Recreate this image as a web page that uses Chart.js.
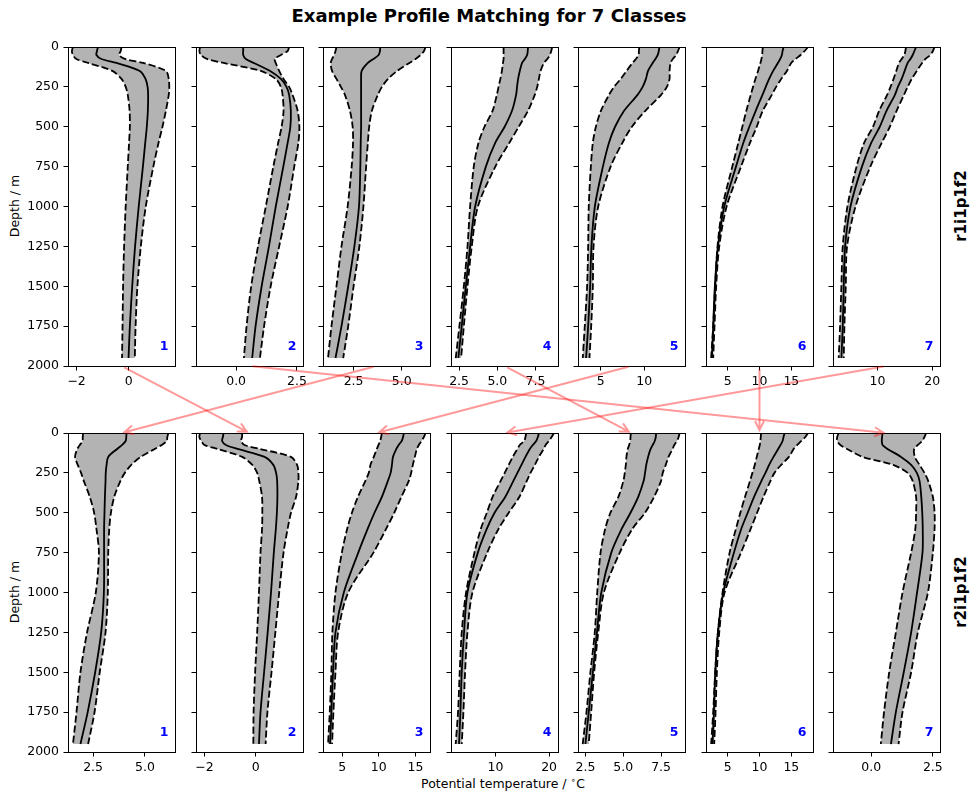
<!DOCTYPE html>
<html>
<head>
<meta charset="utf-8">
<script src="https://cdn.jsdelivr.net/npm/chart.js@4.4.1/dist/chart.umd.min.js"></script>
<style>
html,body{margin:0;padding:0;background:#fff;}
#fig{position:relative;width:971px;height:793px;overflow:hidden;background:#fff;font-family:'DejaVu Sans',sans-serif;color:#000;}
.lbl{position:absolute;white-space:nowrap;line-height:1;transform:translate(-50%,-50%);}
.rot{transform:translate(-50%,-50%) rotate(-90deg);}
</style>
</head>
<body>
<div id="fig">
  <div class="lbl" style="left:489px;top:16px;font-size:18px;font-weight:bold;">Example Profile Matching for 7 Classes</div>
  <div class="lbl" style="left:503px;top:783.5px;font-size:12.5px;">Potential temperature / <span style="position:relative;top:-0.45em;font-size:0.72em;">∘</span>C</div>
  <div class="lbl rot" style="left:14.5px;top:205.5px;font-size:12.5px;">Depth / m</div>
  <div class="lbl rot" style="left:14.5px;top:591.5px;font-size:12.5px;">Depth / m</div>
  <div class="lbl rot" style="left:961px;top:205.5px;font-size:15px;font-weight:bold;">r1i1p1f2</div>
  <div class="lbl rot" style="left:961px;top:591.5px;font-size:15px;font-weight:bold;">r2i1p1f2</div>
</div>
<script>
// ---------------- data ----------------
const depths = [0, 25, 50, 75, 100, 150, 200, 250, 300, 400, 500, 600, 750, 1000, 1250, 1500, 1750, 1950];
const depthTicks = [0, 250, 500, 750, 1000, 1250, 1500, 1750, 2000];
const classLabels = ['1', '2', '3', '4', '5', '6', '7'];
const rowNames = ['r1i1p1f2', 'r2i1p1f2'];

// r1i1p1f2 (top row)
const top1Mean  = [-1.18, -1.22, -1.24, -1.05, -0.47, 0.42, 0.64, 0.72, 0.74, 0.73, 0.69, 0.63, 0.54, 0.38, 0.24, 0.13, 0.04, -0.01];
const top1Lower = [-2.14, -2.18, -2.14, -2.01, -1.56, -0.63, -0.28, -0.12, -0.04, 0.03, 0.04, 0.01, -0.04, -0.12, -0.18, -0.22, -0.24, -0.26];
const top1Upper = [-0.28, -0.31, -0.37, -0.15, 0.55, 1.42, 1.53, 1.55, 1.53, 1.42, 1.29, 1.14, 0.94, 0.65, 0.46, 0.33, 0.26, 0.23];

const top2Mean  = [0.29, 0.29, 0.29, 0.40, 0.73, 1.40, 1.84, 2.07, 2.18, 2.25, 2.23, 2.12, 1.94, 1.63, 1.35, 1.05, 0.80, 0.66];
const top2Lower = [-1.48, -1.51, -1.45, -1.20, -0.51, 1.01, 1.63, 1.84, 1.91, 1.95, 1.87, 1.73, 1.53, 1.22, 0.90, 0.62, 0.43, 0.32];
const top2Upper = [2.18, 2.12, 1.84, 1.59, 1.63, 1.77, 1.95, 2.18, 2.32, 2.53, 2.60, 2.56, 2.39, 2.12, 1.77, 1.42, 1.15, 0.98];

const top3Mean  = [3.88, 3.87, 3.80, 3.53, 3.24, 2.92, 2.89, 2.89, 2.89, 2.89, 2.89, 2.87, 2.85, 2.78, 2.54, 2.22, 1.87, 1.56];
const top3Lower = [1.61, 1.56, 1.49, 1.38, 1.31, 1.38, 1.61, 1.84, 2.05, 2.31, 2.45, 2.47, 2.40, 2.19, 1.87, 1.61, 1.35, 1.17];
const top3Upper = [6.24, 6.16, 5.98, 5.72, 5.40, 4.76, 4.29, 3.97, 3.76, 3.45, 3.31, 3.24, 3.15, 3.01, 2.80, 2.50, 2.22, 1.96];

const top4Mean  = [7.01, 6.99, 6.95, 6.80, 6.62, 6.47, 6.36, 6.29, 6.23, 5.96, 5.48, 4.87, 4.25, 3.55, 3.22, 2.94, 2.67, 2.45];
const top4Lower = [5.41, 5.41, 5.41, 5.41, 5.37, 5.30, 5.20, 5.08, 4.97, 4.69, 4.16, 3.77, 3.46, 3.22, 3.05, 2.81, 2.52, 2.28];
const top4Upper = [8.59, 8.53, 8.44, 8.27, 8.05, 7.83, 7.72, 7.61, 7.45, 7.01, 6.40, 5.79, 4.87, 3.73, 3.33, 3.05, 2.81, 2.63];

const top5Mean  = [11.76, 11.69, 11.57, 11.30, 10.99, 10.45, 10.21, 9.83, 9.24, 7.69, 6.65, 5.95, 5.25, 4.32, 3.93, 3.78, 3.55, 3.31];
const top5Lower = [9.44, 9.40, 9.36, 9.05, 8.66, 7.97, 7.31, 6.53, 5.95, 5.02, 4.44, 4.09, 3.86, 3.62, 3.55, 3.43, 3.16, 2.93];
const top5Upper = [14.09, 13.90, 13.70, 13.31, 13.04, 12.93, 12.93, 12.62, 11.96, 10.14, 8.59, 7.50, 6.14, 4.71, 4.17, 4.09, 3.90, 3.70];

const top6Mean  = [13.77, 13.62, 13.51, 13.25, 12.88, 12.14, 11.51, 10.98, 10.46, 9.40, 8.40, 7.46, 6.30, 4.46, 3.46, 2.98, 2.72, 2.51];
const top6Lower = [10.51, 10.46, 10.41, 10.30, 10.14, 9.77, 9.35, 8.98, 8.62, 7.93, 7.30, 6.67, 5.72, 4.19, 3.40, 3.04, 2.72, 2.40];
const top6Upper = [17.62, 17.09, 16.46, 15.67, 14.98, 14.30, 13.40, 12.61, 11.93, 10.51, 9.56, 8.51, 7.09, 4.83, 3.67, 3.19, 2.93, 2.72];

const top7Mean  = [17.06, 16.75, 16.44, 16.02, 15.52, 14.97, 14.42, 13.74, 13.19, 11.66, 10.43, 8.89, 7.18, 5.09, 4.11, 3.86, 3.68, 3.43];
const top7Lower = [15.22, 15.10, 14.91, 14.42, 13.93, 13.44, 12.95, 12.39, 11.78, 10.31, 9.20, 7.60, 6.19, 4.53, 3.68, 3.43, 3.19, 2.94];
const top7Upper = [20.43, 20.13, 19.64, 18.78, 18.16, 17.18, 16.26, 15.52, 14.85, 13.50, 12.27, 10.80, 8.71, 6.01, 4.47, 4.23, 3.98, 3.86];

// r2i1p1f2 (bottom row)
const bot1Mean  = [4.11, 4.10, 4.07, 3.90, 3.66, 3.23, 3.15, 3.11, 3.10, 3.07, 3.05, 3.03, 3.03, 3.02, 2.89, 2.60, 2.24, 1.89];
const bot1Lower = [2.02, 2.00, 1.99, 1.86, 1.74, 1.63, 1.76, 1.92, 2.05, 2.34, 2.55, 2.66, 2.78, 2.63, 2.21, 1.89, 1.70, 1.53];
const bot1Upper = [6.13, 6.08, 6.05, 5.81, 5.47, 4.79, 4.34, 4.03, 3.82, 3.52, 3.36, 3.28, 3.23, 3.21, 3.10, 2.82, 2.57, 2.26];

const bot2Mean  = [-1.25, -1.28, -1.31, -1.16, -0.70, 0.35, 0.69, 0.80, 0.84, 0.85, 0.83, 0.79, 0.71, 0.60, 0.47, 0.33, 0.19, 0.13];
const bot2Lower = [-2.17, -2.20, -2.12, -2.00, -1.49, -0.53, -0.13, 0.06, 0.14, 0.25, 0.26, 0.25, 0.19, 0.13, 0.06, -0.02, -0.08, -0.09];
const bot2Upper = [-0.53, -0.53, -0.57, -0.44, 0.17, 1.38, 1.62, 1.67, 1.67, 1.58, 1.38, 1.25, 1.09, 0.92, 0.77, 0.62, 0.46, 0.39];

const bot3Mean  = [13.40, 13.31, 13.12, 12.71, 12.39, 11.93, 11.79, 11.61, 11.24, 10.42, 9.41, 8.49, 7.20, 5.23, 4.09, 3.76, 3.53, 3.35];
const bot3Lower = [10.42, 10.32, 10.19, 9.96, 9.73, 9.31, 8.86, 8.63, 8.17, 7.16, 6.33, 5.69, 4.96, 4.09, 3.67, 3.53, 3.31, 3.08];
const bot3Upper = [16.38, 16.15, 15.83, 15.46, 15.19, 14.91, 14.64, 14.41, 14.09, 13.08, 12.11, 11.01, 9.27, 5.83, 4.45, 4.09, 3.81, 3.63];

const bot4Mean  = [18.10, 17.91, 17.60, 16.98, 16.41, 15.60, 14.85, 14.10, 13.35, 11.85, 9.85, 8.41, 6.73, 4.79, 4.16, 3.73, 3.48, 3.23];
const bot4Lower = [15.73, 15.60, 15.35, 14.54, 14.10, 13.23, 12.48, 11.73, 10.98, 9.48, 8.41, 7.29, 6.10, 4.54, 3.73, 3.35, 3.04, 2.60];
const bot4Upper = [20.91, 20.48, 19.98, 19.35, 18.98, 18.10, 17.35, 16.54, 15.85, 14.48, 12.48, 10.60, 8.48, 5.73, 4.79, 4.35, 4.04, 3.73];

const bot5Mean  = [7.17, 7.15, 7.08, 6.95, 6.81, 6.64, 6.52, 6.44, 6.35, 5.99, 5.48, 4.90, 4.21, 3.55, 3.26, 2.99, 2.72, 2.50];
const bot5Lower = [5.50, 5.48, 5.46, 5.39, 5.30, 5.21, 5.17, 5.10, 5.01, 4.68, 4.15, 3.81, 3.50, 3.28, 3.12, 2.83, 2.57, 2.32];
const bot5Upper = [8.72, 8.66, 8.55, 8.37, 8.26, 7.99, 7.81, 7.61, 7.50, 7.04, 6.44, 5.61, 4.77, 3.72, 3.35, 3.08, 2.88, 2.72];

const bot6Mean  = [13.93, 13.77, 13.62, 13.30, 12.93, 12.19, 11.51, 10.93, 10.30, 9.14, 8.14, 7.14, 5.98, 4.30, 3.46, 3.04, 2.83, 2.62];
const bot6Lower = [10.25, 10.19, 10.14, 10.04, 9.88, 9.56, 9.25, 8.88, 8.51, 7.72, 6.98, 6.30, 5.30, 4.19, 3.46, 3.04, 2.72, 2.40];
const bot6Upper = [17.62, 17.19, 16.56, 15.93, 15.35, 14.62, 13.40, 12.35, 11.72, 10.62, 9.62, 8.62, 7.09, 4.51, 3.67, 3.30, 3.09, 2.88];

const bot7Mean  = [0.46, 0.44, 0.43, 0.46, 0.66, 1.21, 1.62, 1.85, 1.96, 2.03, 2.07, 2.09, 2.08, 1.86, 1.62, 1.32, 1.00, 0.80];
const bot7Lower = [-1.32, -1.38, -1.38, -1.25, -0.98, -0.34, 0.89, 1.48, 1.68, 1.82, 1.82, 1.79, 1.62, 1.27, 1.00, 0.73, 0.52, 0.39];
const bot7Upper = [2.23, 2.16, 2.07, 1.89, 1.74, 1.77, 1.96, 2.16, 2.31, 2.50, 2.57, 2.57, 2.50, 2.30, 1.89, 1.62, 1.27, 1.11];

// x-axis limits and tick labels
const topXLim = [[-2.33, 1.77], [-1.65, 2.75], [0.91, 6.47], [1.97, 8.97], [2.38, 14.71], [1.59, 18.4], [1.90, 21.42]];
const botXLim = [[1.29, 6.45], [-2.33, 1.85], [2.39, 16.98], [1.73, 21.66], [2.01, 9.08], [1.59, 18.4], [-1.55, 2.79]];
const topXTicks = [[-2, 0], [0, 2.5], [2.5, 5], [2.5, 5, 7.5], [5, 10], [5, 10, 15], [10, 20]];
const botXTicks = [[2.5, 5], [-2, 0], [5, 10, 15], [10, 20], [2.5, 5, 7.5], [5, 10, 15], [0, 2.5]];
const topXDec = [0, 1, 1, 1, 0, 0, 0];
const botXDec = [1, 0, 0, 0, 1, 0, 1];

// matching: top-row class i -> bottom-row class
const matchedClass = [2, 7, 1, 5, 3, 6, 4];

// ---------------- layout ----------------
const PANEL_W = 107, PANEL_H = 321;
const ROW_TOPS = [45, 431];
const PANEL_LEFTS = [0, 1, 2, 3, 4, 5, 6].map(i => Math.round(68 + i * 127.5));
const PAD_L = 60, PAD_R = 10, PAD_T = 10, PAD_B = 34;

Chart.defaults.font.family = "'DejaVu Sans', sans-serif";
const fig = document.getElementById('fig');

function fmt(v, dec) {
  const s = Math.abs(v).toFixed(dec);
  return (v < -1e-9 ? '\u2212' : '') + s;
}

const framePlugin = {
  id: 'frame',
  afterDraw(chart) {
    const {ctx, chartArea: a} = chart;
    ctx.save();
    ctx.strokeStyle = '#000';
    ctx.lineWidth = 1;
    ctx.strokeRect(a.left + 0.5, a.top + 0.5, a.right - a.left, a.bottom - a.top);
    ctx.fillStyle = '#0000ff';
    ctx.font = "bold 12.5px 'DejaVu Sans'";
    ctx.textAlign = 'right';
    ctx.textBaseline = 'alphabetic';
    ctx.fillText(chart.options.plugins.frame.label, a.right - 6.5, a.bottom - 16);
    ctx.restore();
  }
};

function makePanel(row, i, mean, lower, upper, lim, ticks, dec) {
  const left = PANEL_LEFTS[i], top = ROW_TOPS[row];
  const w = PANEL_W + PAD_L + PAD_R, h = PANEL_H + PAD_T + PAD_B;
  const cv = document.createElement('canvas');
  cv.width = w; cv.height = h;
  cv.style.cssText = 'position:absolute;left:' + (left - PAD_L) + 'px;top:' + (top - PAD_T) + 'px;width:' + w + 'px;height:' + h + 'px;';
  fig.appendChild(cv);
  const pts = arr => arr.map((v, k) => ({x: v, y: depths[k]}));
  // closed band: down the lower bound, back up the upper bound (corner points doubled to keep flat ends)
  const lo = pts(lower), up = pts(upper).reverse();
  const band = lo.concat([lo[lo.length - 1]], [up[0]], up);
  const lineStyle = {showLine: true, pointRadius: 0, borderColor: '#000', borderWidth: 1.8, fill: false, tension: 0.3};
  const axisGrid = {display: true, drawOnChartArea: false, drawTicks: true, tickLength: 4.5, color: '#000', lineWidth: 1};
  const tickFont = {family: "'DejaVu Sans'", size: 12.5};
  const chart = new Chart(cv, {
    type: 'scatter',
    data: {
      datasets: [
        Object.assign({data: pts(mean)}, lineStyle),
        Object.assign({data: pts(lower), borderDash: [7, 3]}, lineStyle),
        Object.assign({data: pts(upper), borderDash: [7, 3]}, lineStyle),
        {data: band, showLine: true, pointRadius: 0, borderWidth: 0, borderColor: 'rgba(0,0,0,0)',
         backgroundColor: '#b3b3b3', fill: 'shape', tension: 0.3}
      ]
    },
    options: {
      responsive: false, animation: false, events: [], devicePixelRatio: 1,
      layout: {padding: {left: 0, right: PAD_R, top: PAD_T, bottom: 0}},
      plugins: {legend: {display: false}, tooltip: {enabled: false}, frame: {label: classLabels[i]}},
      scales: {
        x: {
          type: 'linear', position: 'bottom', min: lim[0], max: lim[1],
          afterBuildTicks: ax => { ax.ticks = ticks.map(v => ({value: v})); },
          afterFit: ax => { ax.height = PAD_B; },
          grid: axisGrid, border: {display: false},
          ticks: {color: '#000', font: tickFont, padding: 4, maxRotation: 0, autoSkip: false,
                  callback: v => fmt(v, dec)}
        },
        y: {
          type: 'linear', position: 'left', min: 0, max: 2000, reverse: true,
          afterBuildTicks: ax => { ax.ticks = depthTicks.map(v => ({value: v})); },
          afterFit: ax => { ax.width = PAD_L; },
          grid: axisGrid, border: {display: false},
          ticks: {color: '#000', font: tickFont, padding: 4.5, autoSkip: false,
                  callback: v => (i === 0 ? String(v) : '')}
        }
      }
    },
    plugins: [framePlugin]
  });
  return {chart, offX: left - PAD_L, offY: top - PAD_T};
}

const topSets = [
  [top1Mean, top1Lower, top1Upper], [top2Mean, top2Lower, top2Upper], [top3Mean, top3Lower, top3Upper],
  [top4Mean, top4Lower, top4Upper], [top5Mean, top5Lower, top5Upper], [top6Mean, top6Lower, top6Upper],
  [top7Mean, top7Lower, top7Upper]
];
const botSets = [
  [bot1Mean, bot1Lower, bot1Upper], [bot2Mean, bot2Lower, bot2Upper], [bot3Mean, bot3Lower, bot3Upper],
  [bot4Mean, bot4Lower, bot4Upper], [bot5Mean, bot5Lower, bot5Upper], [bot6Mean, bot6Lower, bot6Upper],
  [bot7Mean, bot7Lower, bot7Upper]
];

const topPanels = topSets.map((s, i) => makePanel(0, i, s[0], s[1], s[2], topXLim[i], topXTicks[i], topXDec[i]));
const botPanels = botSets.map((s, i) => makePanel(1, i, s[0], s[1], s[2], botXLim[i], botXTicks[i], botXDec[i]));

// ---------------- matching arrows ----------------
const ov = document.createElement('canvas');
ov.width = 971; ov.height = 793;
ov.style.cssText = 'position:absolute;left:0;top:0;width:971px;height:793px;pointer-events:none;z-index:5;';
fig.appendChild(ov);
const octx = ov.getContext('2d');
octx.strokeStyle = 'rgba(255,0,0,0.4)';
octx.lineWidth = 2;
octx.lineJoin = 'miter';
octx.lineCap = 'butt';
matchedClass.forEach((cls, i) => {
  const A = topPanels[i], B = botPanels[cls - 1];
  const ca = A.chart.chartArea, cb = B.chart.chartArea;
  let x1 = A.offX + (ca.left + ca.right) / 2;
  let y1 = A.offY + A.chart.scales.y.getPixelForValue(2000);
  let x2 = B.offX + (cb.left + cb.right) / 2;
  let y2 = B.offY + B.chart.scales.y.getPixelForValue(0);
  const dx = x2 - x1, dy = y2 - y1, L = Math.hypot(dx, dy);
  const ux = dx / L, uy = dy / L, shrink = 3;
  x1 += ux * shrink; y1 += uy * shrink; x2 -= ux * shrink; y2 -= uy * shrink;
  const hl = 9, hw = 4.5;
  const bx = x2 - ux * hl, by = y2 - uy * hl;
  octx.beginPath();
  octx.moveTo(x1, y1);
  octx.lineTo(x2, y2);
  octx.moveTo(bx - uy * hw, by + ux * hw);
  octx.lineTo(x2, y2);
  octx.lineTo(bx + uy * hw, by - ux * hw);
  octx.stroke();
});
</script>
</body>
</html>
